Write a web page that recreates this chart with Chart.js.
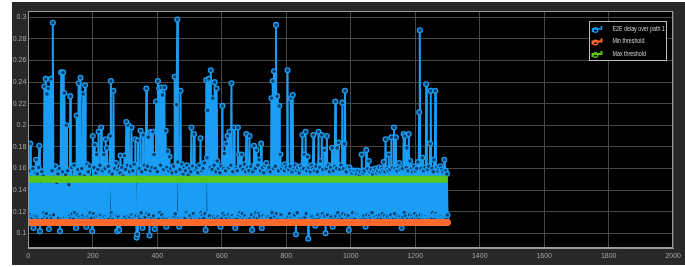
<!DOCTYPE html>
<html>
<head>
<meta charset="utf-8">
<script src="https://cdn.jsdelivr.net/npm/chart.js@4.4.0/dist/chart.umd.min.js"></script>
<style>
  html, body { margin: 0; padding: 0; background: #fff; }
  #fig { position: absolute; left: 12px; top: 2px; width: 673px; height: 263px; background: #282828; }
</style>
</head>
<body>
<div id="fig"><canvas id="delay-chart" width="673" height="263"></canvas></div>
<script>
// E2E delay samples (every 2nd sample, x = 2, 4, ... 1300)
const sampleStep = 2;
const e2eDelay = [
  .158, .117, .183, .115, .152, .114, .160, .105, .150, .116, .156, .168, .115, .155, .113, .161, .181, .102, .148, .113,
  .157, .113, .153, .119, .236, .116, .243, .118, .229, .114, .234, .104, .149, .116, .243, .114, .158, .295, .117, .152,
  .113, .162, .113, .147, .113, .155, .114, .160, .102, .151, .249, .114, .157, .249, .115, .230, .115, .154, .200, .115,
  .158, .116, .145, .116, .227, .114, .161, .118, .150, .113, .163, .119, .152, .105, .209, .117, .159, .239, .115, .155,
  .244, .113, .160, .116, .229, .114, .153, .237, .113, .106, .164, .115, .157, .113, .162, .119, .149, .114, .102, .190,
  .118, .161, .182, .115, .156, .173, .116, .159, .194, .117, .163, .116, .198, .114, .158, .114, .173, .115, .160, .187,
  .114, .179, .113, .162, .113, .157, .190, .241, .119, .155, .113, .232, .117, .160, .116, .165, .116, .102, .158, .115,
  .103, .156, .172, .113, .161, .114, .153, .114, .172, .115, .159, .203, .113, .163, .200, .116, .157, .115, .162, .198,
  .117, .158, .114, .164, .116, .187, .116, .096, .099, .186, .115, .160, .113, .195, .119, .157, .105, .191, .114, .163,
  .115, .159, .234, .118, .162, .189, .117, .098, .158, .194, .114, .161, .194, .116, .173, .104, .160, .222, .113, .157,
  .241, .113, .234, .119, .163, .235, .117, .228, .114, .159, .235, .113, .195, .106, .161, .176, .114, .158, .171, .115,
  .160, .115, .156, .116, .162, .116, .245, .118, .157, .219, .298, .166, .113, .106, .159, .232, .114, .164, .114, .155,
  .113, .161, .114, .158, .119, .163, .117, .154, .116, .160, .116, .157, .198, .113, .162, .118, .192, .115, .159, .114,
  .161, .114, .156, .113, .163, .113, .188, .119, .158, .117, .160, .114, .165, .118, .103, .242, .170, .214, .116, .243,
  .116, .161, .251, .113, .159, .225, .115, .163, .240, .114, .157, .234, .167, .115, .160, .113, .156, .106, .162, .114,
  .218, .118, .160, .174, .116, .158, .183, .114, .190, .117, .161, .194, .115, .163, .239, .116, .157, .114, .198, .113,
  .105, .160, .113, .158, .198, .117, .173, .119, .162, .116, .173, .118, .159, .114, .164, .116, .157, .192, .114, .161,
  .113, .158, .190, .114, .162, .117, .103, .157, .113, .181, .115, .160, .119, .177, .114, .163, .118, .168, .116, .158,
  .183, .105, .161, .116, .156, .113, .163, .115, .165, .114, .159, .115, .161, .113, .157, .114, .225, .119, .241, .160,
  .250, .116, .162, .293, .118, .227, .113, .158, .218, .116, .173, .117, .160, .114, .163, .113, .158, .164, .114, .161,
  .114, .251, .116, .159, .118, .162, .225, .115, .157, .228, .116, .160, .117, .163, .099, .158, .119, .161, .113, .156,
  .113, .162, .114, .159, .191, .114, .160, .173, .115, .194, .118, .158, .171, .095, .161, .116, .157, .116, .163, .115,
  .160, .191, .113, .158, .107, .162, .113, .157, .117, .194, .114, .161, .167, .116, .191, .118, .159, .115, .177, .116,
  .100, .160, .190, .117, .163, .113, .157, .114, .161, .115, .179, .106, .158, .113, .162, .222, .116, .160, .179, .119,
  .184, .114, .159, .116, .163, .113, .221, .118, .160, .183, .232, .117, .157, .114, .161, .116, .103, .161, .113, .158,
  .114, .156, .119, .114, .158, .113, .157, .118, .155, .117, .158, .116, .153, .115, .157, .115, .173, .114, .156, .116,
  .158, .113, .106, .177, .117, .160, .113, .167, .116, .157, .114, .159, .119, .155, .115, .158, .115, .160, .113, .156,
  .116, .158, .114, .161, .117, .157, .113, .160, .118, .158, .166, .116, .157, .187, .114, .160, .115, .158, .173, .113,
  .159, .117, .189, .114, .161, .113, .198, .118, .160, .189, .114, .158, .116, .161, .165, .115, .159, .113, .105, .160,
  .115, .192, .119, .190, .116, .161, .179, .113, .158, .192, .117, .167, .113, .160, .116, .157, .114, .162, .118, .158,
  .114, .160, .116, .166, .113, .212, .288, .117, .160, .113, .170, .116, .158, .115, .161, .115, .238, .114, .159, .114,
  .162, .113, .183, .232, .113, .160, .119, .157, .168, .117, .232, .118, .161, .116, .158, .116, .160, .115, .162, .115,
  .159, .114, .157, .114, .168, .113, .158, .113, .155, .117
];

// thresholds, drawn across the sampled range
const thresholdX = [1, 1300];
const minThreshold = [0.11, 0.11];
const maxThreshold = [0.15, 0.15];

const seriesLabels = ["E2E delay over path 1", "Min threshold", "Max threshold"];
const seriesColors = ["#1a9ef5", "#ff6a2c", "#58c71a"];

// axis ticks
const xTicks = { min: 0, max: 2000, step: 200 };
const yTicks = { min: 0.0861, max: 0.3056, step: 0.02 };

const fontFamily = "'Liberation Sans Narrow', 'Liberation Sans', Arial, sans-serif";
Chart.defaults.font.family = fontFamily;
Chart.defaults.font.size = 7;

const delayPoints = e2eDelay.map((v, i) => ({ x: (i + 1) * sampleStep, y: v }));
const minPoints = thresholdX.map((x, i) => ({ x: x, y: minThreshold[i] }));
const maxPoints = thresholdX.map((x, i) => ({ x: x, y: maxThreshold[i] }));

// black axes background, box frame and a MATLAB-like legend
const axesDecor = {
    id: "axesDecor",
    beforeDraw(chart) {
        const { ctx, chartArea: a } = chart;
        ctx.save();
        ctx.fillStyle = "#000";
        ctx.fillRect(a.left, a.top, a.right - a.left, a.bottom - a.top);
        ctx.restore();
    },
    afterDraw(chart) {
        const { ctx, chartArea: a } = chart;
        ctx.save();
        ctx.strokeStyle = "#9a9a9a";
        ctx.lineWidth = 1;
        ctx.strokeRect(Math.round(a.left) + 0.5, Math.round(a.top) + 0.5,
            Math.round(a.right - a.left) - 1, Math.round(a.bottom - a.top) - 1);

        const x0 = Math.round(a.right - 84) + 0.5;
        const y0 = Math.round(a.top + 10) + 0.5;
        ctx.fillStyle = "#000";
        ctx.fillRect(x0, y0, 77, 39);
        ctx.strokeStyle = "#bdbdbd";
        ctx.strokeRect(x0, y0, 77, 39);

        ctx.font = "7px " + fontFamily;
        ctx.textBaseline = "middle";
        seriesLabels.forEach((label, i) => {
            const cy = y0 + 7.5 + i * 12.5;
            ctx.strokeStyle = seriesColors[i];
            ctx.lineWidth = i === 0 ? 1.5 : 2;
            ctx.beginPath();
            ctx.moveTo(x0 + 3, cy + 3);
            ctx.lineTo(x0 + 3, cy);
            ctx.lineTo(x0 + 12, cy);
            ctx.lineTo(x0 + 12, cy - 3);
            ctx.stroke();
            ctx.lineWidth = 1.2;
            ctx.beginPath();
            ctx.arc(x0 + 6, cy + 1, 2.3, 0, Math.PI * 2);
            ctx.stroke();
            // MATLAB's legend font is condensed, squeeze the text horizontally
            ctx.save();
            ctx.translate(x0 + 23, cy);
            ctx.scale(0.76, 1);
            ctx.fillStyle = "#d4d4d4";
            ctx.fillText(label, 0, 0);
            ctx.restore();
        });
        ctx.restore();
    }
};

const ctx = document.getElementById("delay-chart").getContext("2d");

const delayChart = new Chart(ctx, {
    type: "line",
    data: {
        datasets: [{
            label: seriesLabels[1],
            data: minPoints,
            borderColor: seriesColors[1],
            borderWidth: 7,
            borderCapStyle: "round",
            pointRadius: 0,
            order: 0
        }, {
            label: seriesLabels[2],
            data: maxPoints,
            borderColor: seriesColors[2],
            borderWidth: 7,
            borderCapStyle: "butt",
            pointRadius: 0,
            order: 1
        }, {
            label: seriesLabels[0],
            data: delayPoints,
            borderColor: seriesColors[0],
            borderWidth: 2,
            pointRadius: 2.4,
            pointBorderWidth: 1.3,
            pointBorderColor: seriesColors[0],
            pointBackgroundColor: "#0a3d66",
            tension: 0,
            order: 2
        }]
    },
    options: {
        responsive: false,
        animation: false,
        layout: { padding: { top: 9.3, right: 8.7, left: 0, bottom: 0 } },
        plugins: {
            legend: { display: false },
            tooltip: { enabled: false }
        },
        scales: {
            x: {
                type: "linear",
                min: xTicks.min,
                max: xTicks.max,
                afterFit: scale => { scale.height = 16.7; },
                ticks: {
                    stepSize: xTicks.step,
                    includeBounds: false,
                    color: "#a6a6a6",
                    padding: 4,
                    maxRotation: 0,
                    autoSkip: false,
                    callback: v => String(v)
                },
                grid: { color: "#474747", drawTicks: false },
                border: { color: "#9a9a9a" }
            },
            y: {
                min: yTicks.min,
                max: yTicks.max,
                afterFit: scale => { scale.width = 16.3; },
                ticks: {
                    stepSize: yTicks.step,
                    includeBounds: false,
                    color: "#a6a6a6",
                    padding: 2,
                    callback: v => String(Number(v.toFixed(2)))
                },
                grid: { color: "#474747", drawTicks: false },
                border: { color: "#9a9a9a" }
            }
        }
    },
    plugins: [axesDecor]
});
</script>
</body>
</html>
